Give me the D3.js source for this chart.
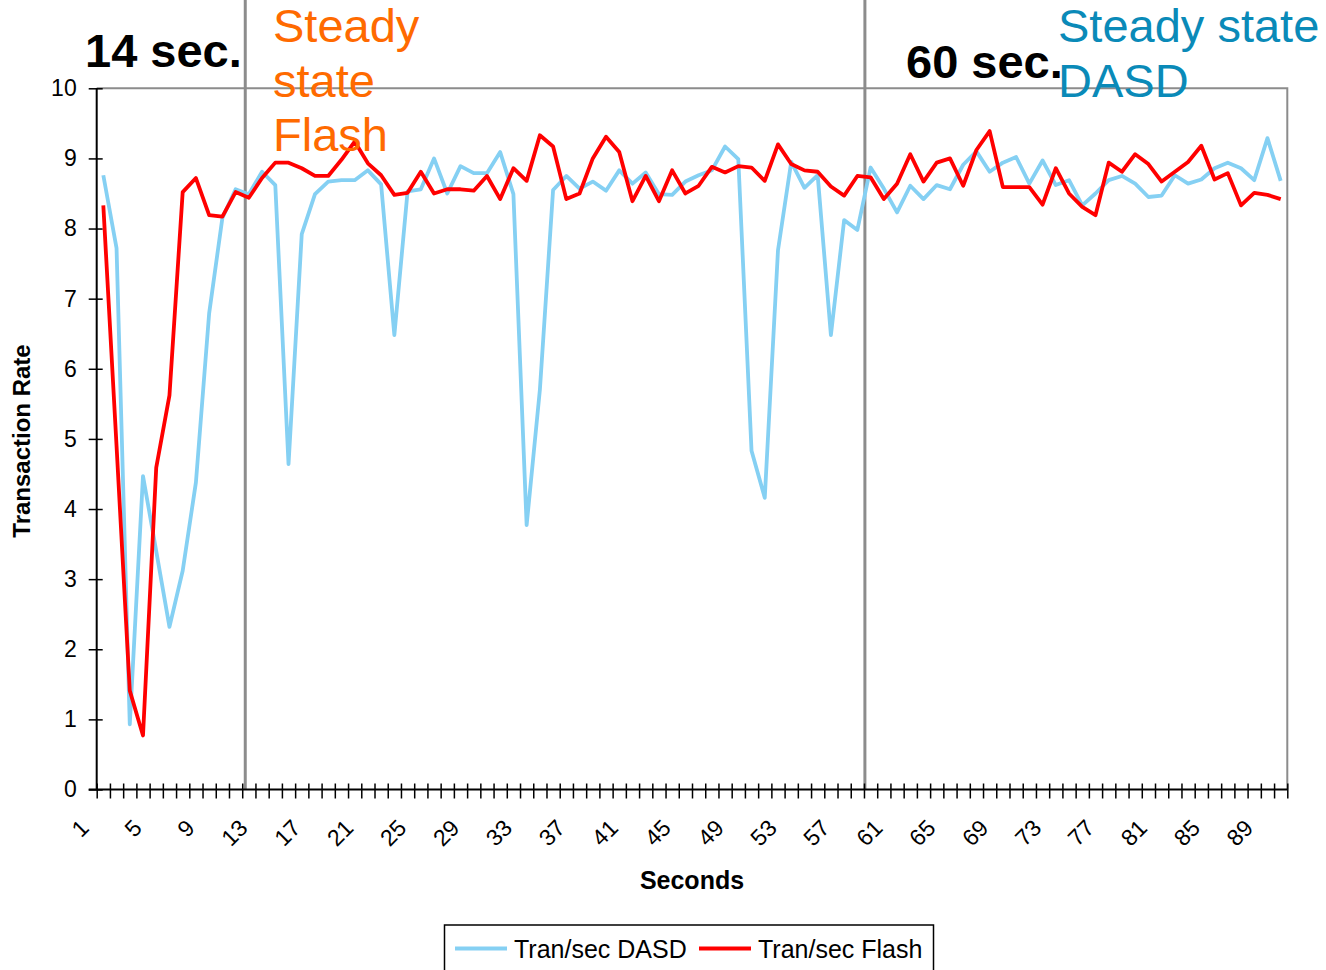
<!DOCTYPE html>
<html>
<head>
<meta charset="utf-8">
<script src="https://cdn.jsdelivr.net/npm/d3@7"></script>
<style>
  body { margin: 0; background: #fff; }
  svg text { font-family: "Liberation Sans", Arial, sans-serif; }
</style>
</head>
<body>
<div id="chart"></div>
<script>
const seconds = d3.range(1, 91);
const tickLabels = seconds.filter(s => (s - 1) % 4 === 0);

const dasd = [8.76, 7.72, 0.93, 4.47, 3.40, 2.32, 3.12, 4.38, 6.79, 8.15,
  8.56, 8.49, 8.81, 8.62, 4.64, 7.92, 8.49, 8.67, 8.69, 8.69,
  8.83, 8.63, 6.48, 8.53, 8.56, 9.00, 8.50, 8.89, 8.79, 8.79,
  9.09, 8.49, 3.77, 5.70, 8.55, 8.75, 8.57, 8.67, 8.54, 8.83,
  8.64, 8.80, 8.49, 8.48, 8.67, 8.76, 8.83, 9.17, 8.99, 4.83,
  4.16, 7.69, 8.95, 8.58, 8.76, 6.48, 8.12, 7.98, 8.87, 8.57,
  8.23, 8.61, 8.42, 8.62, 8.56, 8.91, 9.10, 8.81, 8.94, 9.02,
  8.64, 8.97, 8.62, 8.69, 8.33, 8.50, 8.69, 8.75, 8.64, 8.45,
  8.47, 8.76, 8.64, 8.70, 8.86, 8.94, 8.86, 8.69, 9.29, 8.68];

const flash = [8.33, 4.90, 1.41, 0.77, 4.59, 5.62, 8.52, 8.72, 8.19, 8.17,
  8.52, 8.44, 8.72, 8.94, 8.94, 8.86, 8.75, 8.75, 8.98, 9.24,
  8.93, 8.76, 8.48, 8.51, 8.81, 8.50, 8.56, 8.56, 8.54, 8.75,
  8.42, 8.86, 8.68, 9.33, 9.17, 8.42, 8.50, 9.00, 9.31, 9.09,
  8.39, 8.75, 8.39, 8.83, 8.50, 8.61, 8.88, 8.80, 8.89, 8.87,
  8.68, 9.20, 8.92, 8.83, 8.81, 8.60, 8.47, 8.75, 8.73, 8.42,
  8.64, 9.06, 8.67, 8.94, 9.00, 8.61, 9.12, 9.39, 8.59, 8.59,
  8.59, 8.34, 8.86, 8.50, 8.31, 8.19, 8.94, 8.81, 9.06, 8.92,
  8.67, 8.81, 8.95, 9.18, 8.70, 8.79, 8.33, 8.51, 8.48, 8.42];

const yTicks = [0, 1, 2, 3, 4, 5, 6, 7, 8, 9, 10];
// where the two "steady state" markers sit, in category units
const markers = [11.73, 58.57];

const width = 1326, height = 970;
const mLeft = 96.7, mRight = 1287.3, mTop = 88.3, mBottom = 789.5;

const svg = d3.select("#chart")
  .append("svg")
  .attr("width", width)
  .attr("height", height);

const x = d3.scaleLinear().domain([0.5, seconds.length + 0.5]).range([mLeft, mRight]);
const y = d3.scaleLinear().domain([0, 10]).range([mBottom, mTop]);

// plot frame (top + right in grey)
svg.append("path")
  .attr("d", `M${mLeft},${mTop}H${mRight}V${mBottom}`)
  .attr("fill", "none")
  .attr("stroke", "#8c8c8c")
  .attr("stroke-width", 2);

// marker lines
svg.selectAll(".marker")
  .data(markers)
  .enter().append("line")
  .attr("class", "marker")
  .attr("x1", d => x(d)).attr("x2", d => x(d))
  .attr("y1", 0).attr("y2", mBottom)
  .attr("stroke", "#8c8c8c")
  .attr("stroke-width", 3);

// y axis
const yAxis = svg.append("g")
  .attr("transform", `translate(${mLeft},0)`)
  .call(d3.axisLeft(y).tickValues(yTicks).tickSize(8).tickFormat(d3.format("d")));
yAxis.selectAll(".tick line").attr("x2", -8).attr("x1", 6).attr("stroke", "#000").attr("stroke-width", 1.5);
yAxis.select(".domain").attr("stroke", "#000").attr("stroke-width", 2).attr("d", `M0,${mTop}V${mBottom}`);
yAxis.selectAll("text").attr("font-size", 23).attr("fill", "#000").attr("x", -20);

// x axis: ticks between categories
const boundaries = d3.range(0, seconds.length + 1).map(i => i + 0.5);
const xAxis = svg.append("g")
  .attr("transform", `translate(0,${mBottom})`)
  .call(d3.axisBottom(x).tickValues(boundaries).tickSize(8).tickFormat(""));
xAxis.selectAll(".tick line").attr("y1", -6).attr("y2", 9).attr("stroke", "#000").attr("stroke-width", 1.5);
xAxis.select(".domain").attr("stroke", "#000").attr("stroke-width", 2).attr("d", `M${mLeft - 8},0H${mRight}`);

svg.selectAll(".xlabel")
  .data(tickLabels)
  .enter().append("text")
  .attr("class", "xlabel")
  .attr("transform", d => `translate(${x(d) - 13},${mBottom + 40}) rotate(-45)`)
  .attr("text-anchor", "end")
  .attr("font-size", 23)
  .text(d => d);

// lines
const line = d3.line()
  .x((d, i) => x(seconds[i]))
  .y(d => y(d));

svg.append("path")
  .datum(dasd)
  .attr("d", line)
  .attr("fill", "none")
  .attr("stroke", "#85d0f3")
  .attr("stroke-width", 3.8)
  .attr("stroke-linejoin", "round");

svg.append("path")
  .datum(flash)
  .attr("d", line)
  .attr("fill", "none")
  .attr("stroke", "#ff0000")
  .attr("stroke-width", 3.8)
  .attr("stroke-linejoin", "round");

// axis titles
svg.append("text")
  .attr("x", 692).attr("y", 889)
  .attr("text-anchor", "middle")
  .attr("font-size", 25).attr("font-weight", "bold")
  .text("Seconds");

svg.append("text")
  .attr("transform", "translate(30,441) rotate(-90)")
  .attr("text-anchor", "middle")
  .attr("font-size", 24).attr("font-weight", "bold")
  .text("Transaction Rate");

// annotations
svg.append("text")
  .attr("x", 85).attr("y", 67)
  .attr("font-size", 47).attr("font-weight", "bold")
  .text("14 sec.");

svg.append("text")
  .attr("x", 906).attr("y", 78)
  .attr("font-size", 47).attr("font-weight", "bold")
  .text("60 sec.");

const flashNote = svg.append("text")
  .attr("font-size", 47).attr("fill", "#ff6a00");
["Steady", "state", "Flash"].forEach((t, i) => {
  flashNote.append("tspan").attr("x", 273).attr("y", 42 + i * 54.5).text(t);
});

const dasdNote = svg.append("text")
  .attr("font-size", 47).attr("fill", "#0a8ab8");
["Steady state", "DASD"].forEach((t, i) => {
  dasdNote.append("tspan").attr("x", 1058).attr("y", 42 + i * 55).text(t);
});

// legend
const legend = svg.append("g");
legend.append("rect")
  .attr("x", 444.5).attr("y", 925)
  .attr("width", 489).attr("height", 60)
  .attr("fill", "#fff")
  .attr("stroke", "#000")
  .attr("stroke-width", 1.5);

const items = [
  {name: "Tran/sec DASD", color: "#85d0f3", x: 455},
  {name: "Tran/sec Flash", color: "#ff0000", x: 699}
];
items.forEach(it => {
  legend.append("line")
    .attr("x1", it.x).attr("x2", it.x + 52)
    .attr("y1", 948.5).attr("y2", 948.5)
    .attr("stroke", it.color).attr("stroke-width", 3.8);
  legend.append("text")
    .attr("x", it.x + 59).attr("y", 957.5)
    .attr("font-size", 25)
    .text(it.name);
});
</script>
</body>
</html>
